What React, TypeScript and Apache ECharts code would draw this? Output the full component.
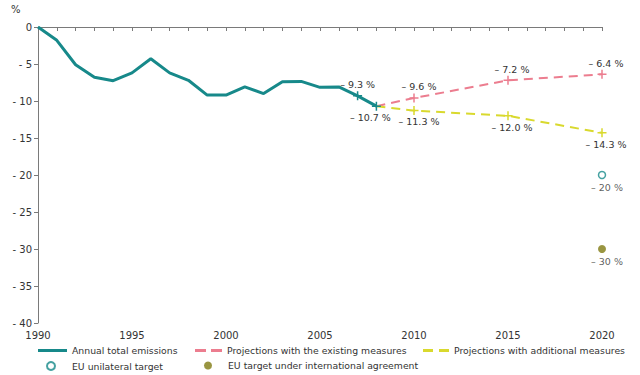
import React, { useEffect, useRef } from "react";
import * as echarts from "echarts";

const annualYears = [1990, 1991, 1992, 1993, 1994, 1995, 1996, 1997, 1998, 1999, 2000, 2001, 2002, 2003, 2004, 2005, 2006, 2007, 2008];
const annualValues = [0, -1.8, -5.1, -6.8, -7.25, -6.2, -4.3, -6.2, -7.2, -9.2, -9.2, -8.1, -9.0, -7.4, -7.35, -8.15, -8.1, -9.3, -10.7];
const annualMarked = [2007, 2008];

const projYears = [2008, 2010, 2015, 2020];
const existingValues = [-10.7, -9.6, -7.2, -6.4];
const additionalValues = [-10.7, -11.3, -12.0, -14.3];

const targetYears = [2020];
const unilateralTarget = [-20];
const internationalTarget = [-30];

const yTicks = [0, -5, -10, -15, -20, -25, -30, -35, -40];

const NAMES = {
  annual: "Annual total emissions",
  existing: "Projections with the existing measures",
  additional: "Projections with additional measures",
  unilateral: "EU unilateral target",
  international: "EU target under international agreement",
};

const TEAL = "#17898a";
const PINK = "#ec7d8f";
const YELLOW = "#d9d92e";
const OLIVE = "#7f7a12";
const TXT = "#333333";
const FONT = "DejaVu Sans";
const PLUS = "path://M4,0V8M0,4H8";
const LABEL_SIZE = 9.5;

const fmt = (v: number, d: number) => "\u2013 " + Math.abs(v).toFixed(d) + " %";

export default function App() {
  const ref = useRef<HTMLDivElement>(null);
  useEffect(() => {
    if (!ref.current) return;
    const chart = echarts.init(ref.current, undefined, { renderer: "svg" });

    const annualData = annualYears.map((y, i) => {
      const idx = annualMarked.indexOf(y);
      if (idx < 0) return { value: [y, annualValues[i]] };
      return {
        value: [y, annualValues[i]],
        symbol: PLUS,
        symbolSize: 9,
        label: {
          show: true,
          position: idx === 0 ? "top" : "bottom",
          distance: 1,
          offset: idx === 0 ? [0, 0] : [-6, 0],
          formatter: () => fmt(annualValues[i], 1),
        },
      };
    });

    const projData = (vals: number[], above: boolean) =>
      projYears.map((y, i) => {
        if (i === 0) return { value: [y, vals[i]], symbol: "none" };
        return {
          value: [y, vals[i]],
          symbol: PLUS,
          symbolSize: 9,
          label: {
            show: true,
            position: above ? "top" : "bottom",
            distance: 1,
            offset: [i === 1 ? 5 : 4, 0],
            formatter: () => fmt(vals[i], 1),
          },
        };
      });

    const legendText = { color: TXT, fontSize: 9.3, fontFamily: FONT };
    const legendBase = { padding: 0, selectedMode: false, textStyle: legendText };

    chart.setOption({
      animation: false,
      textStyle: { fontFamily: FONT },
      grid: { left: 38, right: 38, top: 27, bottom: 52, containLabel: false },
      graphic: [
        { type: "text", left: 11, top: 4, style: { text: "%", fill: TXT, font: `10px ${FONT}` } },
      ],
      legend: [
        {
          ...legendBase, left: 38, top: 346, itemWidth: 29, itemHeight: 3,
          itemStyle: { borderWidth: 0 },
          data: [{ name: NAMES.annual, icon: "rect" }],
        },
        {
          ...legendBase, left: 195, top: 346, itemWidth: 27, itemHeight: 3,
          itemStyle: { borderWidth: 0 },
          data: [{ name: NAMES.existing, icon: "path://M0,0h11v3h-11zM16,0h11v3h-11z" }],
        },
        {
          ...legendBase, left: 423, top: 346, itemWidth: 26, itemHeight: 3,
          itemStyle: { borderWidth: 0 },
          data: [{ name: NAMES.additional, icon: "path://M0,0h10v3h-10zM16,0h10v3h-10z" }],
        },
        {
          ...legendBase, left: 46, top: 361, itemWidth: 8, itemHeight: 8,
          textStyle: { ...legendText, padding: [0, 0, 0, 12] },
          data: [{ name: NAMES.unilateral, icon: "circle" }],
        },
        {
          ...legendBase, left: 204, top: 361, itemWidth: 8, itemHeight: 8,
          textStyle: { ...legendText, padding: [0, 0, 0, 11] },
          data: [{ name: NAMES.international, icon: "circle" }],
        },
      ],
      xAxis: {
        type: "value",
        min: 1990,
        max: 2020,
        interval: 5,
        axisLine: { show: true, lineStyle: { color: "#7a7a7a", width: 1 } },
        axisTick: { show: true, length: 4, lineStyle: { color: "#7a7a7a" } },
        minorTick: { show: true, splitNumber: 5, length: 4, lineStyle: { color: "#7a7a7a" } },
        splitLine: { show: false },
        axisLabel: { color: TXT, fontSize: 10, fontFamily: FONT, margin: 7, formatter: (v: number) => String(v) },
      },
      yAxis: {
        type: "value",
        min: -40,
        max: 0,
        interval: 5,
        axisLine: { show: true, lineStyle: { color: "#7a7a7a", width: 1 } },
        axisTick: { show: true, length: 4, lineStyle: { color: "#7a7a7a" } },
        splitLine: { show: false },
        axisLabel: {
          color: TXT, fontSize: 10, fontFamily: FONT, margin: 6,
          formatter: (v: number) => (yTicks.indexOf(v) >= 0 ? (v === 0 ? "0" : "- " + Math.abs(v)) : ""),
        },
      },
      series: [
        {
          name: NAMES.annual,
          type: "line",
          data: annualData,
          symbol: "none",
          showSymbol: true,
          color: TEAL,
          lineStyle: { color: TEAL, width: 3 },
          itemStyle: { color: TEAL, borderColor: TEAL, borderWidth: 1.5 },
          label: { color: TXT, fontSize: LABEL_SIZE, fontFamily: FONT },
          z: 3,
        },
        {
          name: NAMES.existing,
          type: "line",
          data: projData(existingValues, true),
          symbol: "none",
          showSymbol: true,
          color: PINK,
          lineStyle: { color: PINK, width: 2, type: [9, 6] },
          itemStyle: { color: PINK, borderColor: PINK, borderWidth: 1.5 },
          label: { color: TXT, fontSize: LABEL_SIZE, fontFamily: FONT },
          z: 2,
        },
        {
          name: NAMES.additional,
          type: "line",
          data: projData(additionalValues, false),
          symbol: "none",
          showSymbol: true,
          color: YELLOW,
          lineStyle: { color: YELLOW, width: 2, type: [9, 6] },
          itemStyle: { color: YELLOW, borderColor: YELLOW, borderWidth: 1.5 },
          label: { color: TXT, fontSize: LABEL_SIZE, fontFamily: FONT },
          z: 2,
        },
        {
          name: NAMES.unilateral,
          type: "scatter",
          data: targetYears.map((y, i) => [y, unilateralTarget[i]]),
          symbol: "circle",
          symbolSize: 7,
          color: TEAL,
          itemStyle: { color: "#ffffff", borderColor: TEAL, borderWidth: 1.5 },
          label: {
            show: true, position: "bottom", distance: 3, offset: [5, 0],
            color: TXT, fontSize: LABEL_SIZE, fontFamily: FONT,
            formatter: (p: any) => fmt(p.value[1], 0),
          },
        },
        {
          name: NAMES.international,
          type: "scatter",
          data: targetYears.map((y, i) => [y, internationalTarget[i]]),
          symbol: "circle",
          symbolSize: 8,
          color: OLIVE,
          itemStyle: { color: OLIVE },
          label: {
            show: true, position: "bottom", distance: 3, offset: [5, 0],
            color: TXT, fontSize: LABEL_SIZE, fontFamily: FONT,
            formatter: (p: any) => fmt(p.value[1], 0),
          },
        },
      ],
    });
    return () => chart.dispose();
  }, []);
  return <div ref={ref} style={{ width: 640, height: 375, position: "absolute", left: 0, top: 0 }} />;
}
